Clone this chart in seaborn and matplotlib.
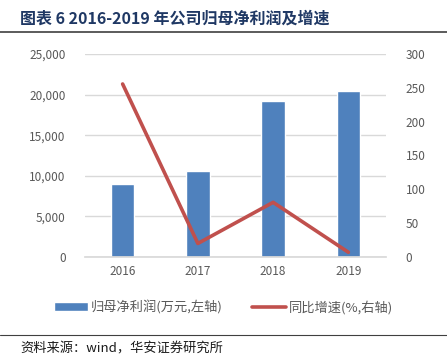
import matplotlib
matplotlib.use("Agg")
import matplotlib.pyplot as plt
import seaborn as sns
import pandas as pd
from matplotlib.patches import Patch
from matplotlib.lines import Line2D
from matplotlib.ticker import FuncFormatter

# data
years = ["2016", "2017", "2018", "2019"]
net_profit = [8990, 10590, 19210, 20480]    # 万元, left axis
growth = [255.7, 20.0, 80.8, 7.0]            # %, right axis

title = "图表 6 2016-2019 年公司归母净利润及增速"
bar_label = "归母净利润(万元,左轴)"
line_label = "同比增速(%,右轴)"
source = "资料来源：wind，华安证券研究所"

sns.set_theme(style="white")
plt.rcParams['font.family'] = ['Noto Sans CJK SC', 'DejaVu Sans']

W, H = 447, 364
fig = plt.figure(figsize=(W / 100, H / 100), dpi=100)

df = pd.DataFrame({"year": years, "profit": net_profit, "growth": growth})

ax = fig.add_axes([85 / W, (H - 257) / H, (386 - 85) / W, (257 - 54) / H])
sns.barplot(data=df, x="year", y="profit", ax=ax, color="#4f81bd",
            saturation=1, width=0.31, zorder=2)
ax.set_xlim(-0.5, 3.5)
ax.set_ylim(0, 25000)
ax.set_yticks(range(0, 25001, 5000))
ax.yaxis.set_major_formatter(FuncFormatter(lambda v, p: f"{int(v):,}"))
ax.grid(axis="y", color="#d9d9d9", linewidth=1, zorder=0)
ax.set_axisbelow(True)
for s in ["top", "left", "right"]:
    ax.spines[s].set_visible(False)
ax.spines["bottom"].set_color("#d9d9d9")
ax.set_xlabel("")
ax.set_ylabel("")
ax.tick_params(axis="both", length=0, labelsize=8.5, colors="#595959")
ax.tick_params(axis="y", pad=14)
ax.tick_params(axis="x", pad=6)

ax2 = ax.twinx()
sns.lineplot(x=list(range(len(years))), y=growth, ax=ax2, color="#c0504d",
             linewidth=2.6, zorder=3)
ax2.set_ylim(0, 300)
ax2.set_yticks(range(0, 301, 50))
for s in ["top", "left", "right", "bottom"]:
    ax2.spines[s].set_visible(False)
ax2.tick_params(axis="y", length=0, labelsize=8.5, colors="#595959", pad=14)
ax2.set_ylabel("")

# title, rules and source
fig.text(20 / W, 1 - 19 / H, title, fontsize=11.5, fontweight="bold",
         color="#1f3864", va="center", ha="left")
fig.add_artist(Line2D([0, 1], [1 - 32 / H, 1 - 32 / H], color="#404040",
                      linewidth=1.2, transform=fig.transFigure))
fig.add_artist(Line2D([0, 1], [1 - 335 / H, 1 - 335 / H], color="#404040",
                      linewidth=0.8, transform=fig.transFigure))
fig.text(20 / W, 1 - 349 / H, source, fontsize=9.5, color="#1a1a1a",
         va="center", ha="left")

handles = [Patch(facecolor="#4f81bd", label=bar_label),
           Line2D([0], [0], color="#c0504d", linewidth=2.6, label=line_label)]
fig.legend(handles=handles, loc="center", bbox_to_anchor=(0.5, 1 - 307 / H),
           ncol=2, frameon=False, fontsize=9.5, labelcolor="#595959",
           handlelength=2.6, handleheight=0.6, handletextpad=0.2,
           columnspacing=2.2)

fig.savefig("out.png", dpi=100)
